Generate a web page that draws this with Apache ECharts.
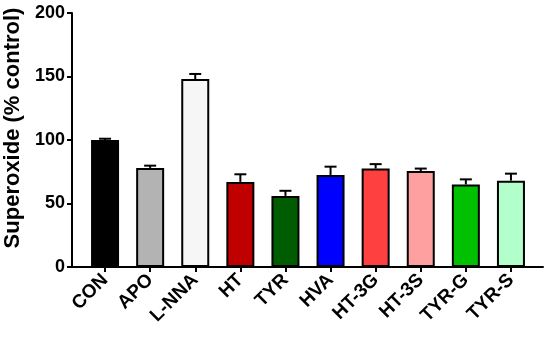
<!DOCTYPE html>
<html><head><meta charset="utf-8">
<script src="https://cdn.jsdelivr.net/npm/echarts@6/dist/echarts.min.js"></script>
<style>html,body{margin:0;padding:0;background:#fff}#c{width:550px;height:345px}</style>
</head><body><div id="c"></div>
<script>
const categories = ['CON','APO','L-NNA','HT','TYR','HVA','HT-3G','HT-3S','TYR-G','TYR-S'];
const values = [100, 78, 148, 67, 56, 72.5, 77.5, 75.5, 65, 68];
const errors = [1, 1.8, 4, 6, 4, 6.5, 3.5, 2, 4, 5.5];
const colors = ['#000000','#b3b3b3','#f6f6f6','#c00000','#005c00','#0000ff','#ff4040','#ffa0a0','#00c000','#b3ffcc'];
const yTicks = [0, 50, 100, 150, 200];

const chart = echarts.init(document.getElementById('c'));
const font = 'Liberation Sans, Arial, sans-serif';
chart.setOption({
  animation: false,
  grid: [
    {left: 72, right: 7, top: 13, bottom: 78, containLabel: false, outerBoundsMode: 'none'},
    {left: 82.5, right: 16.5, top: 13, bottom: 78, containLabel: false, outerBoundsMode: 'none'}
  ],
  xAxis: [
    {gridIndex: 0, type: 'value', min: 0, max: 1, axisLine: {lineStyle: {color: '#000', width: 2}},
     axisTick: {show: false}, axisLabel: {show: false}, splitLine: {show: false}},
    {gridIndex: 1, type: 'category', data: categories,
     axisLine: {show: false},
     axisTick: {show: true, alignWithLabel: true, length: 5, lineStyle: {color: '#000', width: 2}},
     axisLabel: {rotate: 45, margin: 10, color: '#000', fontWeight: 'bold', fontSize: 19, fontFamily: font, interval: 0}}
  ],
  yAxis: [
    {gridIndex: 0, type: 'value', min: yTicks[0], max: yTicks[yTicks.length-1], interval: 50,
     name: 'Superoxide (% control)', nameLocation: 'middle', nameGap: 45,
     nameTextStyle: {color: '#000', fontWeight: 'bold', fontSize: 22, fontFamily: font, padding: [0, 0, 0, 24]},
     axisLine: {show: true, lineStyle: {color: '#000', width: 2}},
     axisTick: {show: true, length: 5, lineStyle: {color: '#000', width: 2}},
     axisLabel: {color: '#000', fontWeight: 'bold', fontSize: 18, fontFamily: font, margin: 7},
     splitLine: {show: false}},
    {gridIndex: 1, type: 'value', min: yTicks[0], max: yTicks[yTicks.length-1], show: false}
  ],
  series: [
    {type: 'bar', xAxisIndex: 1, yAxisIndex: 1, barWidth: 28,
     data: values.map((v, i) => ({value: v, itemStyle: {color: colors[i]}})),
     itemStyle: {borderColor: '#000', borderWidth: 2}, z: 2},
    {type: 'custom', xAxisIndex: 1, yAxisIndex: 1, z: 1,
     data: values.map((v, i) => [i, v, v + errors[i]]),
     renderItem: function (params, api) {
       const top = api.coord([api.value(0), api.value(2)]);
       const base = api.coord([api.value(0), api.value(1)]);
       const hw = 6;
       return {type: 'group', children: [
         {type: 'line', shape: {x1: top[0], y1: top[1], x2: base[0], y2: base[1]}, style: {stroke: '#000', lineWidth: 2}},
         {type: 'line', shape: {x1: top[0]-hw, y1: top[1], x2: top[0]+hw, y2: top[1]}, style: {stroke: '#000', lineWidth: 2}}
       ]};
     }}
  ]
});
</script></body></html>
